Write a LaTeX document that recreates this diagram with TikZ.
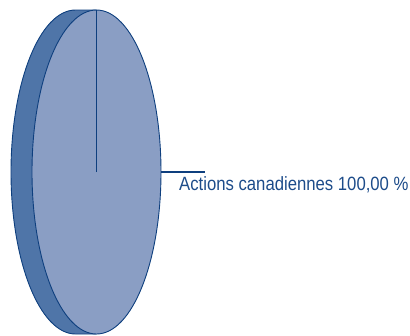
\documentclass[tikz,border=0pt]{standalone}
\usepackage{fontspec}
\setmainfont{Liberation Sans}[FakeStretch=0.87]
\definecolor{edge}{HTML}{0E3F7E}
\definecolor{face}{HTML}{8A9EC4}
\definecolor{side}{HTML}{4F75A8}
\definecolor{txt}{HTML}{1D4C8A}
\begin{document}
\begin{tikzpicture}[x=1pt,y=-1pt,
  outline/.style={draw=edge,line width=0.9pt},
  lbl/.style={font=\fontsize{19.2}{22}\selectfont,text=txt,inner sep=0pt,anchor=base west}]
\useasboundingbox (0,0) rectangle (410,335);
% side (thickness)
\fill[side] (75.5,10) arc[start angle=-90,end angle=-270,x radius=64.5,y radius=162] -- (96.5,334) -- (96.5,10) -- cycle;
\draw[outline] (96.5,10) -- (75.5,10) arc[start angle=-90,end angle=-270,x radius=64.5,y radius=162] -- (96.5,334);
% face
\draw[outline,fill=face] (96.5,172) ellipse[x radius=64.5,y radius=162];
\coordinate (c) at (96.5,172);
\coordinate (top) at (96.5,10);
\draw[edge,line width=1pt] (c) -- (top);
% leader and label
\coordinate (r) at (161,172);
\coordinate (le) at (205,172);
\draw[edge,line width=1.2pt] (r) -- (le);
\node[lbl] (t) at (179,190.5) {Actions canadiennes 100,00 \%};
\end{tikzpicture}
\end{document}
